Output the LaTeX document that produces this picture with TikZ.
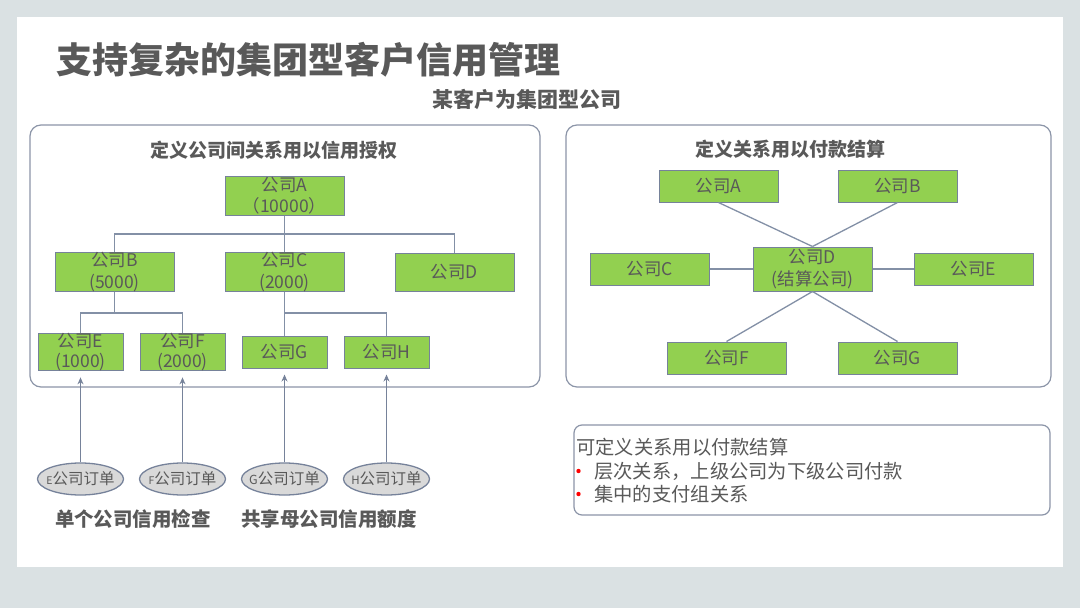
\documentclass[tikz,border=0pt]{standalone}
\usepackage{fontspec}
\setmainfont{Noto Sans CJK SC}
\usetikzlibrary{arrows.meta,shapes.geometric}
\definecolor{bgout}{HTML}{DAE1E3}
\definecolor{txt}{HTML}{595959}
\definecolor{grn}{HTML}{92D050}
\definecolor{bord}{HTML}{76829A}
\definecolor{conn}{HTML}{8390A6}
\definecolor{panel}{HTML}{8C95A8}
\definecolor{ellfill}{HTML}{D9D9D9}
\newcommand{\zw}[1]{\makebox[0pt][c]{#1}}
\tikzset{
  gbox/.style={draw=bord, line width=1pt, fill=grn, inner sep=0pt, align=center,
    text=txt, font=\fontsize{17.5}{21.5}\selectfont},
  bigbox/.style={gbox, minimum width=119pt, minimum height=38pt},
  smallbox/.style={gbox, minimum width=85pt, minimum height=32pt, font=\fontsize{17.5}{20}\selectfont},
  rbox/.style={gbox, minimum width=119pt, minimum height=32pt},
  conline/.style={draw=conn, line width=1.3pt},
  panelbox/.style={draw=panel, line width=1.2pt, rounded corners=11pt},
  order/.style={ellipse, draw=bord, line width=1.3pt, fill=ellfill, minimum width=86pt,
    minimum height=32pt, inner sep=0pt, text=txt, font=\fontsize{15.5}{18}\selectfont},
  up/.style={draw=bord, line width=1.2pt, -{Stealth[length=7pt,width=6pt]}, shorten >=6pt},
  hdr/.style={text=txt, font=\bfseries\fontsize{19}{22}\selectfont, inner sep=0pt},
  note/.style={text=txt, font=\fontsize{19.3}{22}\selectfont, inner sep=0pt, anchor=west}
}
\begin{document}
\begin{tikzpicture}[x=1pt,y=-1pt]
\useasboundingbox (0,0) rectangle (1080,608);
\fill[bgout] (0,0) rectangle (1080,608);
\fill[white] (17,17) rectangle (1063,567);

% titles
\node[anchor=west, inner sep=0pt, text=txt, font=\bfseries\fontsize{36}{40}\selectfont] (title) at (56,60) {支持复杂的集团型客户信用管理};
\node[hdr, font=\bfseries\fontsize{21}{24}\selectfont] (sub) at (527,99) {某客户为集团型公司};

% panels
\draw[panelbox] (30,125) rectangle (540,387);
\draw[panelbox] (566,125) rectangle (1051,387);
\node[hdr] (lhdr) at (274,150) {定义公司间关系用以信用授权};
\node[hdr] (rhdr) at (790,149) {定义关系用以付款结算};

% left tree
\node[bigbox, minimum height=39pt] (A) at (284.5,195.5) {公司A\\（10000）};
\node[bigbox] (B) at (114.5,272) {公司B\\(5000)};
\node[bigbox] (C) at (284.5,272) {公司C\\(2000)};
\node[bigbox] (D) at (454.5,272) {公司D};
\node[smallbox] (E) at (80.5,352) {公司E\\(1000)};
\node[smallbox] (F) at (182.5,352) {公司F\\(2000)};
\node[smallbox] (G) at (284.5,352) {公司G};
\node[smallbox] (H) at (386.5,352) {公司H};

\coordinate (bus1) at (284.5,234);
\coordinate (bus2) at (114.5,313);
\coordinate (bus3) at (284.5,313);
\draw[conline] (A.south) -- (bus1);
\draw[conline] (bus1) -| (B.north);
\draw[conline] (bus1) -- (C.north);
\draw[conline] (bus1) -| (D.north);
\draw[conline] (B.south) -- (bus2);
\draw[conline] (bus2) -| (E.north);
\draw[conline] (bus2) -| (F.north);
\draw[conline] (C.south) -- (bus3);
\draw[conline] (bus3) -- (G.north);
\draw[conline] (bus3) -| (H.north);

% orders
\node[order] (oE) at (80.5,479) {\zw{{\fontsize{10.5}{12}\selectfont E}公司订单}};
\node[order] (oF) at (182.5,479) {\zw{{\fontsize{10.5}{12}\selectfont F}公司订单}};
\node[order] (oG) at (284.5,479) {\zw{{\fontsize{12.5}{12}\selectfont G}公司订单}};
\node[order] (oH) at (386.5,479) {\zw{{\fontsize{11.5}{12}\selectfont H}公司订单}};
\draw[up] (oE.north) -- (E.south);
\draw[up] (oF.north) -- (F.south);
\draw[up] (oG.north) -- (G.south);
\draw[up] (oH.north) -- (H.south);

\node[hdr, font=\bfseries\fontsize{19.5}{22}\selectfont] (lab1) at (133,519) {单个公司信用检查};
\node[hdr, font=\bfseries\fontsize{19.5}{22}\selectfont] (lab2) at (329,519) {共享母公司信用额度};

% right star
\node[rbox] (RA) at (718.5,186) {公司A};
\node[rbox] (RB) at (897.5,186) {公司B};
\node[rbox] (RC) at (650,269) {公司C};
\node[rbox, minimum height=44pt, font=\fontsize{17.5}{22}\selectfont] (RD) at (812.5,269) {公司D\\(结算公司)};
\node[rbox] (RE) at (973.5,269) {公司E};
\node[rbox] (RF) at (726.5,358) {公司F};
\node[rbox] (RG) at (897.5,358) {公司G};
\draw[conline] (RA.south) -- (RD.north);
\draw[conline] (RB.south) -- (RD.north);
\draw[conline] (RC.east) -- (RD.west);
\draw[conline] (RD.east) -- (RE.west);
\draw[conline] (RD.south) -- (RF.north);
\draw[conline] (RD.south) -- (RG.north);

% note box
\draw[panelbox, rounded corners=8pt] (574,425) rectangle (1050,515);
\node[note] (n1) at (576,447) {可定义关系用以付款结算};
\fill[red] (578.5,471) circle (2.2pt);
\node[note] (n2) at (594,471) {层次关系，上级公司为下级公司付款};
\fill[red] (578.5,494) circle (2.2pt);
\node[note] (n3) at (594,494) {集中的支付组关系};
\end{tikzpicture}
\end{document}
